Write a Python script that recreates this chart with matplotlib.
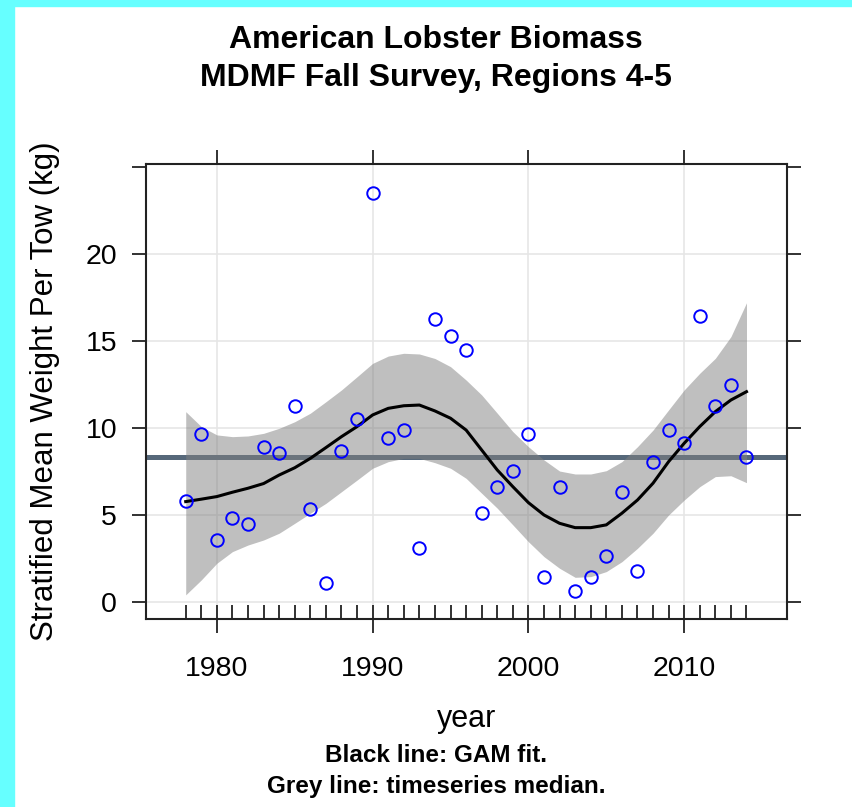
import matplotlib
matplotlib.use('Agg')
import matplotlib.pyplot as plt
from matplotlib.patches import Rectangle
import numpy as np

plt.rcParams['font.family'] = ['Liberation Sans', 'DejaVu Sans']

years = list(range(1978, 2015))

# Observed stratified mean weight per tow (kg)
biomass = [5.8, 9.65, 3.55, 4.8, 4.45, 8.9, 8.55, 11.25, 5.35, 1.1,
           8.65, 10.5, 23.55, 9.45, 9.9, 3.1, 16.3, 15.3, 14.5, 5.1,
           6.6, 7.5, 9.65, 1.4, 6.6, 0.6, 1.4, 2.65, 6.3, 1.75,
           8.05, 9.9, 9.15, 16.45, 11.25, 12.5, 8.3]

# GAM fit and its confidence band
gam_fit = [5.76, 5.9, 6.05, 6.3, 6.53, 6.8, 7.29, 7.71, 8.25, 8.87,
           9.5, 10.08, 10.75, 11.13, 11.28, 11.32, 10.98, 10.56, 9.88, 8.73,
           7.58, 6.62, 5.7, 4.99, 4.51, 4.26, 4.26, 4.42, 5.09, 5.85,
           6.82, 8.06, 9.12, 10.08, 10.94, 11.61, 12.09]
gam_upper = [10.94, 10.08, 9.6, 9.5, 9.54, 9.69, 9.98, 10.36, 10.85, 11.51,
             12.19, 12.95, 13.72, 14.14, 14.3, 14.26, 14.0, 13.53, 12.76, 11.9,
             10.85, 9.79, 8.92, 8.16, 7.52, 7.35, 7.35, 7.54, 8.06, 8.92,
             9.88, 11.04, 12.19, 13.15, 14.01, 15.26, 17.21]
gam_lower = [0.39, 1.25, 2.21, 2.88, 3.26, 3.55, 3.94, 4.51, 5.09, 5.66,
             6.33, 7.0, 7.68, 8.06, 8.25, 8.25, 8.0, 7.68, 7.1, 6.24,
             5.38, 4.42, 3.45, 2.59, 1.92, 1.4, 1.44, 1.73, 2.3, 3.07,
             3.94, 4.99, 5.85, 6.62, 7.2, 7.25, 6.85]

x_major = [1980, 1990, 2000, 2010]
y_major = [0, 5, 10, 15, 20, 25]
y_labels = ['0', '5', '10', '15', '20', '']

fig = plt.figure(figsize=(8.53, 8.07), dpi=100)
W, H = 853, 807
ax = fig.add_axes([146 / W, 1 - 619 / H, (787 - 146) / W, (619 - 164) / H])

# cyan frame on the left and top edges
fig.patches.append(Rectangle((0, 0), 14 / W, 1, transform=fig.transFigure,
                             color='#66ffff', zorder=-1))
fig.patches.append(Rectangle((0, 1 - 6 / H), 1, 6 / H, transform=fig.transFigure,
                             color='#66ffff', zorder=-1))

for xv in x_major:
    ax.axvline(xv, color='#e6e6e6', lw=1.2, zorder=0)
for yv in y_major[:-1]:
    ax.axhline(yv, color='#e6e6e6', lw=1.2, zorder=0)

ax.axhline(np.median(biomass), color='#56687a', lw=3.6, zorder=1)
ax.fill_between(years, gam_lower, gam_upper, color='#808080', alpha=0.5,
                lw=0, zorder=2)
ax.plot(years, gam_fit, color='black', lw=2.2, zorder=3)
ax.plot(years, biomass, 'o', mfc='none', mec='blue', ms=9, mew=1.4, zorder=4)

ax.set_xlim(1975.45, 2016.6)
ax.set_ylim(-1.0, 25.2)

ax.set_xticks(x_major)
ax.set_xticks(years, minor=True)
ax.xaxis.remove_overlapping_locs = False
ax.set_yticks(y_major)
ax.set_yticklabels(y_labels)
ax.tick_params(axis='both', which='major', direction='out', length=10.3, width=1.3,
               labelsize=20.5, top=True, right=True, color='#222222')
ax.tick_params(axis='x', which='major', pad=16)
ax.tick_params(axis='y', which='major', pad=10.5)
ax.tick_params(axis='x', which='minor', direction='in', length=10, width=1.3,
               bottom=True, top=False, color='#222222')
for s in ax.spines.values():
    s.set_linewidth(1.5)
    s.set_color('#222222')

ax.set_ylabel('Stratified Mean Weight Per Tow (kg)', fontsize=22.5)
ax.yaxis.set_label_coords(60 / W, 1 - 391.5 / H, transform=fig.transFigure)

ax_cx = (146 + 787) / 2 / W
fig.text(436 / W, 1 - 40 / H, 'American Lobster Biomass', ha='center', va='center',
         fontsize=23, fontweight='bold')
fig.text(436 / W, 1 - 78 / H, 'MDMF Fall Survey, Regions 4-5', ha='center', va='center',
         fontsize=23, fontweight='bold')
fig.text(ax_cx, 1 - 719 / H, 'year', ha='center', va='center', fontsize=22)
fig.text(436 / W, 1 - 755 / H, 'Black line: GAM fit.', ha='center', va='center',
         fontsize=17.5, fontweight='bold')
fig.text(436 / W, 1 - 787 / H, 'Grey line: timeseries median.', ha='center', va='center',
         fontsize=17.5, fontweight='bold')

fig.savefig('out.png', dpi=100, facecolor='white')
